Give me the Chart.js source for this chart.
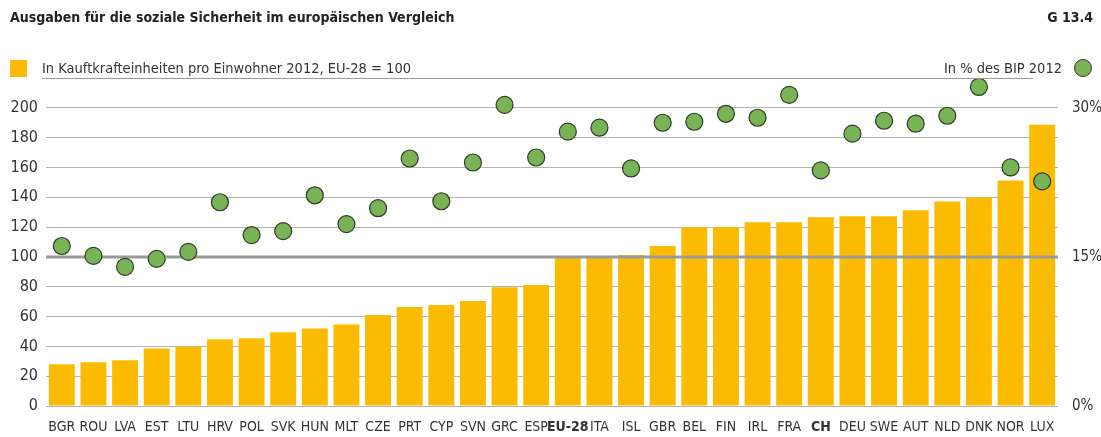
<!DOCTYPE html>
<html>
<head>
<meta charset="utf-8">
<script src="https://cdn.jsdelivr.net/npm/chart.js@4"></script>
<style>
  body { margin: 0; background: #fff; }
  #wrap { position: relative; width: 1101px; height: 437px; font-family: "Liberation Sans Narrow", "DejaVu Sans Condensed", sans-serif; color: #333; }
  #wrap canvas { position: absolute; left: 0; top: 0; }
  .title { position: absolute; left: 10px; top: 9px; font-size: 14px; font-weight: bold; color: #222; }
  .code { position: absolute; right: 8px; top: 9px; font-size: 14px; font-weight: bold; color: #222; }
  .leg-box { position: absolute; left: 10px; top: 60px; width: 17px; height: 17px; background: #fbbb00; }
  .leg-text { position: absolute; left: 42px; top: 60px; font-size: 14.5px; }
  .leg-line { position: absolute; left: 42px; top: 78px; width: 991px; height: 1px; background: #999; }
  .leg-right { position: absolute; right: 39px; top: 60px; font-size: 14.5px; }
  .leg-dot { position: absolute; left: 1074px; top: 59px; width: 16px; height: 16px; border-radius: 50%; background: #78b455; border: 1px solid #2e3a28; }
</style>
</head>
<body>
<div id="wrap">
  <canvas id="chart" width="1101" height="437"></canvas>
  <div class="title">Ausgaben für die soziale Sicherheit im europäischen Vergleich</div>
  <div class="code">G 13.4</div>
  <div class="leg-box"></div>
  <div class="leg-text">In Kauftkrafteinheiten pro Einwohner 2012, EU-28 = 100</div>
  <div class="leg-line"></div>
  <div class="leg-right">In % des BIP 2012</div>
  <div class="leg-dot"></div>
</div>
<script>
// categories, left axis: purchasing power per head (EU-28 = 100), right axis: % of GDP
const countries = ["BGR", "ROU", "LVA", "EST", "LTU", "HRV", "POL", "SVK", "HUN", "MLT", "CZE", "PRT", "CYP", "SVN", "GRC", "ESP", "EU-28", "ITA", "ISL", "GBR", "BEL", "FIN", "IRL", "FRA", "CH", "DEU", "SWE", "AUT", "NLD", "DNK", "NOR", "LUX"];
const kkPerHead = [28, 29.3, 30.7, 38.5, 39.8, 44.7, 45.4, 49.4, 51.9, 54.6, 61, 66.4, 67.8, 70.5, 79.6, 81.2, 100, 99.5, 101.3, 107.4, 119.9, 120, 123.3, 123.3, 126.6, 127.3, 127.3, 131.3, 137.1, 139.8, 151.2, 188.6];
const pctGdp = [16.1, 15.1, 14.0, 14.8, 15.5, 20.5, 17.2, 17.6, 21.2, 18.3, 19.9, 24.9, 20.6, 24.5, 30.3, 25.0, 27.6, 28.0, 23.9, 28.5, 28.6, 29.4, 29.0, 31.3, 23.7, 27.4, 28.7, 28.4, 29.2, 32.1, 24.0, 22.6];
const leftTicks = [0, 20, 40, 60, 80, 100, 120, 140, 160, 180, 200];
const rightTicks = [0, 15, 30];
const boldLabels = ["EU-28", "CH"];

const FONT = "'Liberation Sans Narrow', 'DejaVu Sans Condensed', sans-serif";

// thick reference line at 100, drawn over the bars but under the dots
const refLine = {
  id: "refLine",
  afterDatasetDraw(chart, args) {
    if (args.index !== 0) return;
    const y = chart.scales.y.getPixelForValue(100);
    const ctx = chart.ctx;
    ctx.save();
    ctx.strokeStyle = "#9a9a9a";
    ctx.lineWidth = 3;
    ctx.beginPath();
    ctx.moveTo(chart.chartArea.left, y);
    ctx.lineTo(chart.chartArea.right, y);
    ctx.stroke();
    ctx.restore();
  }
};

new Chart(document.getElementById("chart"), {
  data: {
    labels: countries,
    datasets: [{
      type: "bar",
      data: kkPerHead,
      backgroundColor: "#fbbb00",
      barPercentage: 0.82,
      categoryPercentage: 1,
      yAxisID: "y",
      order: 1
    }, {
      type: "line",
      data: pctGdp,
      showLine: false,
      clip: false,
      pointRadius: 8.5,
      pointBackgroundColor: "#78b455",
      pointBorderColor: "#2e3a28",
      pointBorderWidth: 1.2,
      yAxisID: "y2",
      order: 0
    }]
  },
  options: {
    responsive: false,
    animation: false,
    // axes run a bit past 200 / 30 % so the highest dots stay inside the plot
    layout: { padding: { top: 78, left: 0, right: 0, bottom: 0 } },
    plugins: { legend: { display: false }, tooltip: { enabled: false } },
    scales: {
      x: {
        grid: { display: false },
        border: { display: false },
        afterFit: s => { s.height = 31; },
        ticks: {
          autoSkip: false,
          maxRotation: 0,
          padding: 5,
          color: "#333",
          font: c => ({ family: FONT, size: 14, weight: boldLabels.includes(countries[c.index]) ? "bold" : "normal" })
        }
      },
      y: {
        position: "left",
        min: 0,
        max: 220,
        afterFit: s => { s.width = 46; },
        afterBuildTicks: s => { s.ticks = leftTicks.map(v => ({ value: v })); },
        border: { display: false },
        grid: { color: "#b5b5b5", lineWidth: 1, drawTicks: false },
        ticks: { padding: 8, color: "#333", font: { family: FONT, size: 16 } }
      },
      y2: {
        position: "right",
        min: 0,
        max: 33,
        afterFit: s => { s.width = 43; },
        afterBuildTicks: s => { s.ticks = rightTicks.map(v => ({ value: v })); },
        border: { display: false },
        grid: { display: false },
        ticks: { padding: 6, color: "#333", font: { family: FONT, size: 15 }, callback: v => v + "%" }
      }
    }
  },
  plugins: [refLine]
});
</script>
</body>
</html>
